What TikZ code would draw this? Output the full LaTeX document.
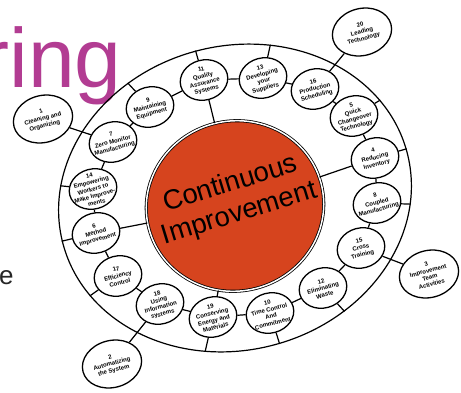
\documentclass[tikz,border=0pt]{standalone}
\usepackage{fontspec}
\setmainfont{Liberation Sans}
\usetikzlibrary{shapes.geometric}
\definecolor{corered}{RGB}{214,68,30}
\definecolor{titlepink}{RGB}{178,60,146}

\begin{document}
\begin{tikzpicture}[x=1pt,y=-1pt,
  link/.style={line width=1.2pt},
  stagetext/.style={rotate=15, align=center, inner sep=0pt,
    font=\fontsize{6}{7.1}\selectfont\bfseries},
  stage/.style={ellipse, draw, line width=1.3pt, fill=white, inner sep=0pt,
    minimum width=48pt, minimum height=40pt, rotate=15,
    label={[stagetext]center:{#1}}},
  outerstage/.style={stage={#1}, minimum width=60pt, minimum height=47pt},
]
\fill[white] (0,0) rectangle (461,392);
\useasboundingbox (0,0) rectangle (461,392);

% fragments of the page heading and body text
\node[anchor=base west, inner sep=0pt, text=titlepink,
  font=\fontsize{84}{84}\selectfont] (heading) at (-18.6,87) {ring};
\node[anchor=base west, inner sep=0pt, text=black!85,
  font=\fontsize{26}{26}\selectfont] (bodytail) at (-1,284) {e};

% outer ring of the wheel
\node[ellipse, draw, line width=1.2pt, minimum width=356pt, minimum height=304pt,
  rotate=15, inner sep=0pt] (ring) at (235,198) {};

% hub
\node[ellipse, draw, fill=corered, line width=0.8pt, double=white,
  double distance=1.5pt, minimum width=178pt, minimum height=170pt,
  rotate=15, inner sep=0pt] (core) at (235,206) {};
\node[rotate=17, align=center, inner sep=0pt,
  font=\fontsize{27.5}{31}\selectfont] (coretext) at (235,199)
  {Continuous\\Improvement};

% stages on the inner ring
\node[stage={9\\Maintaining\\Equipment}] (n9) at (150,107) {};
\node[stage={11\\Quality\\Assurance\\Systems}] (n11) at (204,80) {};
\node[stage={13\\Developing\\your\\Suppliers}] (n13) at (263,78) {};
\node[stage={16\\Production\\Scheduling}] (n16) at (315,89) {};
\node[stage={5\\Quick\\Changeover\\Technology}] (n5) at (354,116) {};
\node[stage={4\\Reducing\\Inventory}] (n4) at (375,158) {};
\node[stage={8\\Coupled\\Manufacturing}] (n8) at (377,203) {};
\node[stage={15\\Cross\\Training}] (n15) at (361,248) {};
\node[stage={12\\Eliminating\\Waste}] (n12) at (323,288) {};
\node[stage={10\\Time Control\\And\\Commitment}] (n10) at (270,313) {};
\node[stage={19\\Conserving\\Energy and\\Materials}] (n19) at (213,317) {};
\node[stage={18\\Using\\Information\\systems}] (n18) at (160,304) {};
\node[stage={17\\Efficiency\\Control}] (n17) at (118,276) {};
\node[stage={6\\Method\\Improvement}] (n6) at (96,233) {};
\node[stage={14\\Empowering\\Workers to\\Make Improve-\\ments}] (n14) at (93,189) {};
\node[stage={7\\Zero Monitor\\Manufacturing}] (n7) at (113,142) {};

% stages outside the wheel
\node[outerstage={1\\Cleaning and\\Organizing}] (n1) at (43,119) {};
\node[outerstage={20\\Leading\\Technology}] (n20) at (362,32) {};
\node[outerstage={3\\Improvement\\Team\\Activities}] (n3) at (429,274) {};
\node[outerstage={2\\Automatizing\\the System}] (n2) at (112,364) {};

% inner ring joining neighbouring stages
\draw[link] (n9) -- (n11) -- (n13) -- (n16) -- (n5) -- (n4) -- (n8) -- (n15)
  -- (n12) -- (n10) -- (n19) -- (n18) -- (n17) -- (n6) -- (n14) -- (n7) -- (n9);

% spokes to the outer ring
\draw[link] (n11) -- (ring.90);
\draw[link] (n13) -- (ring.62);
\draw[link] (n5) -- (ring.19);
\draw[link] (n4) -- (ring.1);
\draw[link] (n8) -- (ring.343);
\draw[link] (n12) -- (ring.299);
\draw[link] (n10) -- (ring.272);
\draw[link] (n19) -- (ring.244);
\draw[link] (n17) -- (ring.199);
\draw[link] (n6) -- (ring.179);
\draw[link] (n14) -- (ring.161);
\draw[link] (n9) -- (ring.118);

% spokes to the hub
\draw[link] (n11) -- (core);
\draw[link] (n4) -- (core);
\draw[link] (n6) -- (core);
\draw[link] (n19) -- (core);

% links through the outer ring
\draw[link] (n16) -- (n20);
\draw[link] (n15) -- (n3);
\draw[link] (n18) -- (n2);
\draw[link] (n7) -- (n1);
\end{tikzpicture}
\end{document}
